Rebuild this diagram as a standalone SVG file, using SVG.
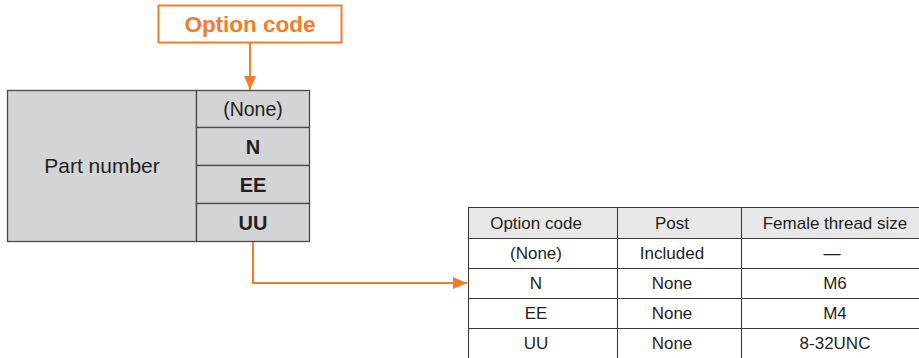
<svg xmlns="http://www.w3.org/2000/svg" width="919" height="358" viewBox="0 0 919 358">
<defs>
<marker id="ah" markerWidth="14" markerHeight="12" refX="14" refY="6" orient="auto" markerUnits="userSpaceOnUse">
<path d="M0,0 L14,6 L0,12 Z" fill="#f47b2a"/>
</marker>
<style>
text{font-family:"Liberation Sans",Arial,sans-serif;fill:#231f20}
.pn{font-size:21px}
.opt{font-size:20px;font-weight:bold}
.none{font-size:19.5px}
.tb{font-size:17px;text-anchor:middle}
.cell{fill:#d3d4d6;stroke:#4a4a4a;stroke-width:1.3}
.tl{stroke:#3c3c3c;stroke-width:1.1}
.conn{fill:none;stroke:#f47b2a;stroke-width:2}
</style>
</defs>
<rect width="919" height="358" fill="#fff"/>
<g id="option-code-label">
<rect x="158.5" y="5.5" width="183" height="37" fill="#fff" stroke="#f47b2a" stroke-width="2"/>
<text x="250" y="31.5" text-anchor="middle" style="font-size:22.5px;font-weight:bold;fill:#f47b2a">Option code</text>
</g>
<g id="part-number">
<rect class="cell" x="7.5" y="90.5" width="189" height="151"/>
<text class="pn" x="102" y="173" text-anchor="middle">Part number</text>
</g>
<g id="opt-none">
<rect class="cell" x="196.5" y="90.5" width="113" height="37"/>
<text class="none" x="253" y="116" text-anchor="middle">(None)</text>
</g>
<g id="opt-n">
<rect class="cell" x="196.5" y="127.5" width="113" height="38"/>
<text class="opt" x="253" y="154" text-anchor="middle">N</text>
</g>
<g id="opt-ee">
<rect class="cell" x="196.5" y="165.5" width="113" height="38"/>
<text class="opt" x="253" y="192" text-anchor="middle">EE</text>
</g>
<g id="opt-uu">
<rect class="cell" x="196.5" y="203.5" width="113" height="38"/>
<text class="opt" x="253" y="230" text-anchor="middle">UU</text>
</g>
<g id="table">
<rect x="468" y="207" width="451" height="31" fill="#e8e8e9"/>
<line class="tl" x1="468" y1="207.5" x2="919" y2="207.5" stroke="#888"/>
<line class="tl" x1="468" y1="238.5" x2="919" y2="238.5"/>
<line class="tl" x1="468" y1="268.5" x2="919" y2="268.5"/>
<line class="tl" x1="468" y1="298.5" x2="919" y2="298.5"/>
<line class="tl" x1="468" y1="328.5" x2="919" y2="328.5"/>
<line class="tl" x1="468.5" y1="207" x2="468.5" y2="358"/>
<line class="tl" x1="617.5" y1="207" x2="617.5" y2="358"/>
<line class="tl" x1="741.5" y1="207" x2="741.5" y2="358"/>
<text class="tb" x="536" y="229">Option code</text>
<text class="tb" x="672" y="229">Post</text>
<text class="tb" x="835" y="229">Female thread size</text>
<text class="tb" x="536" y="259">(None)</text>
<text class="tb" x="672" y="259">Included</text>
<text class="tb" x="832" y="259">—</text>
<text class="tb" x="536" y="289">N</text>
<text class="tb" x="672" y="289">None</text>
<text class="tb" x="835" y="289">M6</text>
<text class="tb" x="536" y="319">EE</text>
<text class="tb" x="672" y="319">None</text>
<text class="tb" x="835" y="319">M4</text>
<text class="tb" x="536" y="349">UU</text>
<text class="tb" x="672" y="349">None</text>
<text class="tb" x="835" y="349">8-32UNC</text>
</g>
<g id="connectors">
<path class="conn" d="M250,42 L250,90" marker-end="url(#ah)"/>
<path class="conn" d="M253,242 L253,283 L467,283" marker-end="url(#ah)"/>
</g>
</svg>
